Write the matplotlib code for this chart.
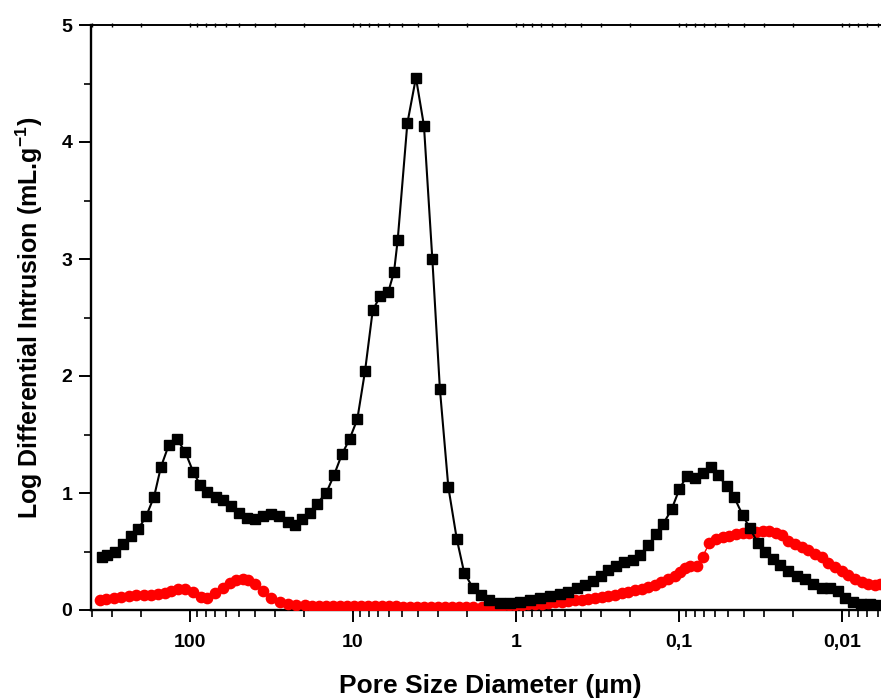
import matplotlib
matplotlib.use("Agg")
import matplotlib.pyplot as plt
from matplotlib.ticker import FixedLocator, LogLocator, MultipleLocator, FuncFormatter, NullFormatter

plt.rcParams['font.family'] = ['Liberation Sans', 'DejaVu Sans']
plt.rcParams['font.weight'] = 'bold'
plt.rcParams['mathtext.fontset'] = 'custom'
plt.rcParams['mathtext.rm'] = 'Liberation Sans'
plt.rcParams['mathtext.bf'] = 'Liberation Sans:bold'

# pore diameter (um) and log differential intrusion (mL/g)
black_d = [348, 322, 288, 259, 231, 208, 186, 166, 151, 135, 120, 107, 95.5, 86.8,
           78.3, 69.5, 62.5, 56.0, 49.8, 44.9, 39.9, 35.5, 31.8, 28.4, 25.2, 22.7,
           20.6, 18.4, 16.6, 14.6, 13.1, 11.7, 10.5, 9.41, 8.44, 7.57, 6.83, 6.07,
           5.60, 5.32, 4.64, 4.11, 3.67, 3.26, 2.93, 2.60, 2.31, 2.08, 1.84, 1.65,
           1.46, 1.25, 1.09, 0.945, 0.821, 0.713, 0.619, 0.537, 0.478, 0.424, 0.377,
           0.336, 0.302, 0.272, 0.244, 0.218, 0.192, 0.173, 0.154, 0.138, 0.125,
           0.111, 0.0996, 0.0897, 0.0798, 0.0716, 0.0639, 0.0574, 0.0510, 0.0458,
           0.0407, 0.0367, 0.0329, 0.0297, 0.0266, 0.0240, 0.0214, 0.0190, 0.0169,
           0.0150, 0.0133, 0.0118, 0.0105, 0.0096, 0.0085, 0.0076, 0.0067, 0.0060]
black_v = [0.455, 0.47, 0.50, 0.56, 0.63, 0.69, 0.80, 0.97, 1.22, 1.41, 1.46, 1.35,
           1.18, 1.07, 1.01, 0.97, 0.94, 0.89, 0.83, 0.79, 0.775, 0.80, 0.82, 0.80,
           0.75, 0.73, 0.78, 0.83, 0.91, 1.00, 1.15, 1.33, 1.46, 1.63, 2.04, 2.56,
           2.68, 2.72, 2.89, 3.16, 4.16, 4.55, 4.14, 3.00, 1.89, 1.05, 0.61, 0.32,
           0.19, 0.13, 0.085, 0.062, 0.062, 0.071, 0.085, 0.10, 0.12, 0.137, 0.157,
           0.185, 0.214, 0.248, 0.291, 0.342, 0.379, 0.413, 0.427, 0.47, 0.556,
           0.65, 0.735, 0.86, 1.03, 1.145, 1.125, 1.174, 1.225, 1.15, 1.06, 0.963,
           0.812, 0.698, 0.575, 0.499, 0.433, 0.385, 0.336, 0.291, 0.262, 0.222,
           0.185, 0.185, 0.165, 0.10, 0.071, 0.051, 0.051, 0.043]

red_d = [358, 326, 293, 264, 238, 213, 191, 173, 157, 143, 130, 118, 107, 95.9,
         86.0, 78.3, 70.5, 62.7, 57.1, 52.0, 47.3, 44.1, 40.1, 35.7, 31.7, 28.2,
         25.0, 22.3, 19.8, 17.8, 16.2, 14.6, 13.3, 12.0, 10.9, 9.86, 8.93, 8.09,
         7.33, 6.64, 6.01, 5.45, 4.94, 4.47, 4.05, 3.67, 3.32, 3.01, 2.73, 2.47,
         2.24, 2.03, 1.84, 1.62, 1.48, 1.35, 1.22, 1.11, 1.01, 0.923, 0.840, 0.765,
         0.695, 0.633, 0.576, 0.524, 0.478, 0.435, 0.395, 0.360, 0.328, 0.298,
         0.272, 0.247, 0.225, 0.205, 0.186, 0.169, 0.154, 0.140, 0.128, 0.116,
         0.106, 0.0986, 0.0919, 0.0856, 0.0779, 0.0716, 0.0652, 0.0593, 0.0539,
         0.0491, 0.0447, 0.0407, 0.0370, 0.0337, 0.0307, 0.0279, 0.0254, 0.0234,
         0.0214, 0.0194, 0.0177, 0.0161, 0.0146, 0.0133, 0.0121, 0.0110, 0.0100,
         0.00915, 0.00832, 0.00757, 0.00690, 0.00627, 0.00585]
red_v = [0.085, 0.094, 0.105, 0.114, 0.122, 0.128, 0.128, 0.128, 0.134, 0.142,
         0.162, 0.177, 0.179, 0.157, 0.114, 0.105, 0.142, 0.185, 0.228, 0.256,
         0.262, 0.256, 0.22, 0.162, 0.105, 0.066, 0.049, 0.043, 0.040, 0.038,
         0.037, 0.036, 0.036, 0.035, 0.035, 0.034, 0.034, 0.033, 0.033, 0.032,
         0.031, 0.030, 0.029, 0.028, 0.027, 0.026, 0.025, 0.025, 0.024, 0.024,
         0.023, 0.023, 0.023, 0.023, 0.028, 0.034, 0.037, 0.040, 0.043, 0.046,
         0.048, 0.051, 0.054, 0.060, 0.066, 0.071, 0.077, 0.083, 0.088, 0.094,
         0.103, 0.111, 0.12, 0.131, 0.142, 0.154, 0.168, 0.182, 0.197, 0.217,
         0.239, 0.262, 0.291, 0.328, 0.356, 0.376, 0.376, 0.456, 0.570, 0.604,
         0.621, 0.632, 0.647, 0.655, 0.661, 0.670, 0.678, 0.678, 0.661, 0.638,
         0.593, 0.564, 0.536, 0.513, 0.479, 0.45, 0.405, 0.37, 0.336, 0.296,
         0.262, 0.242, 0.222, 0.214, 0.22]

x_ticks = [100, 10, 1, 0.1, 0.01]
x_tick_labels = ["100", "10", "1", "0,1", "0,01"]


def fmt_x(v, pos):
    i = min(range(len(x_ticks)), key=lambda k: abs(x_ticks[k] - v))
    return x_tick_labels[i]


fig = plt.figure(figsize=(8.81, 6.99), dpi=100)
ax = fig.add_axes([91/881, 89/699, 1 - 91/881, 585/699])

ax.plot(red_d, red_v, '-o', color='#ff0000', ms=7.4, lw=1.0, zorder=3)
ax.plot(black_d, black_v, '-s', color='black', ms=6.9, lw=1.5, zorder=4)

ax.set_xscale('log')
ax.set_xlim(405, 0.00576)
ax.set_ylim(0, 5)

ax.xaxis.set_major_locator(FixedLocator(x_ticks))
ax.xaxis.set_major_formatter(FuncFormatter(fmt_x))
ax.xaxis.set_minor_locator(LogLocator(base=10, subs=range(2, 10), numticks=20))
ax.xaxis.set_minor_formatter(NullFormatter())
ax.yaxis.set_major_locator(MultipleLocator(1))
ax.yaxis.set_minor_locator(MultipleLocator(0.5))

ax.spines['right'].set_visible(False)
ax.spines['left'].set_linewidth(1.7)
ax.spines['bottom'].set_linewidth(1.7)
ax.spines['top'].set_linewidth(1.4)

ax.tick_params(axis='both', which='major', direction='out', length=8.5, width=1.4,
               labelsize=14)
ax.tick_params(axis='both', which='minor', direction='out', length=5, width=1.2)
ax.tick_params(axis='x', which='major', pad=9)
ax.tick_params(axis='y', which='major', pad=5)
for lab in ax.get_xticklabels() + ax.get_yticklabels():
    lab.set_fontweight('bold')

# small ticks sitting on the top frame line
top = ax.secondary_xaxis('top')
top.xaxis.set_major_locator(FixedLocator(x_ticks))
top.xaxis.set_minor_locator(LogLocator(base=10, subs=range(2, 10), numticks=20))
top.xaxis.set_major_formatter(NullFormatter())
top.xaxis.set_minor_formatter(NullFormatter())
top.tick_params(which='both', direction='inout', length=3, width=1.0)
top.spines['top'].set_visible(False)

ax.set_xlabel("Pore Size Diameter (µm)", fontsize=19, fontweight='bold')
ax.xaxis.set_label_coords(0.505, -0.11)
ax.set_ylabel(r"Log Differential Intrusion (mL.g$^{-1}$)", fontsize=18,
              fontweight='bold')
ax.yaxis.set_label_coords(-0.058, 0.5)

fig.savefig("out.png", dpi=100)
